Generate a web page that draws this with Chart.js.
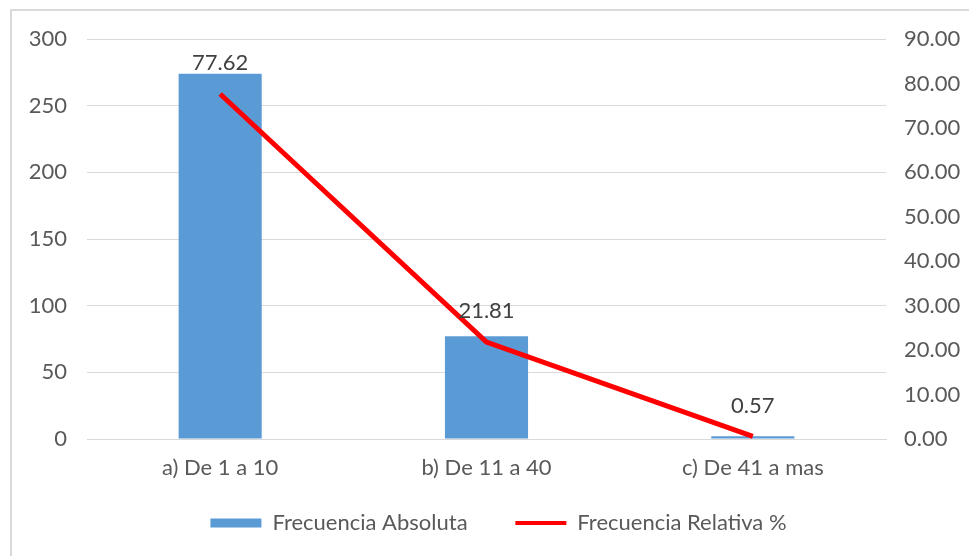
<!DOCTYPE html>
<html><head><meta charset="utf-8">
<script src="https://cdn.jsdelivr.net/npm/chart.js@4/dist/chart.umd.min.js"></script>
<style>
html,body{margin:0;padding:0;background:#fff;}
#wrap{position:relative;width:969px;height:556px;overflow:hidden;background:#fff;}
#frame{position:absolute;left:10px;top:9px;width:1000px;height:600px;border-left:2px solid #d9d9d9;border-top:2px solid #d9d9d9;}
canvas{position:absolute;left:0;top:0;}
</style></head><body>
<div id="wrap"><div id="frame"></div><canvas id="c" width="969" height="556"></canvas></div>
<script>
const categories = ['a) De 1 a 10', 'b) De 11 a 40', 'c) De 41 a mas'];
const frecuenciaAbsoluta = [274, 77, 2];
const frecuenciaRelativa = [77.62, 21.81, 0.57];
const seriesNames = ['Frecuencia Absoluta', 'Frecuencia Relativa %'];
const leftAxis = {min: 0, max: 300, step: 50};
const rightAxis = {min: 0, max: 90, step: 10};

const FONT = "Lato, 'Open Sans', sans-serif";
const FS = 22;

const lineLabels = {
  id: 'lineLabels',
  afterDatasetsDraw(chart) {
    const meta = chart.getDatasetMeta(1);
    const ctx = chart.ctx;
    ctx.save();
    ctx.font = FS + 'px ' + FONT;
    ctx.fillStyle = '#404040';
    ctx.textAlign = 'center';
    ctx.textBaseline = 'middle';
    meta.data.forEach((pt, i) => {
      ctx.fillText(frecuenciaRelativa[i].toFixed(2), pt.x, pt.y - 31);
    });
    ctx.restore();
  }
};

new Chart(document.getElementById('c'), {
  data: {
    labels: categories,
    datasets: [
      {type: 'bar', label: seriesNames[0], data: frecuenciaAbsoluta, backgroundColor: '#5B9BD5', yAxisID: 'y', order: 1,
       categoryPercentage: 1, barPercentage: 0.312},
      {type: 'line', label: seriesNames[1], data: frecuenciaRelativa, borderColor: '#FF0000', backgroundColor: '#FF0000',
       borderWidth: 5, pointRadius: 0, tension: 0, yAxisID: 'y1', order: 0}
    ]
  },
  options: {
    responsive: false,
    animation: false,
    layout: {padding: {top: 39, left: 28, right: 0, bottom: 12}},
    plugins: {
      tooltip: {enabled: false},
      legend: {
        position: 'bottom',
        labels: {
          usePointStyle: true,
          pointStyleWidth: 51,
          boxHeight: 9,
          padding: 14,
          color: '#595959',
          font: {family: FONT, size: FS},
          generateLabels(chart) {
            const items = Chart.defaults.plugins.legend.labels.generateLabels(chart);
            items.forEach(it => {
              if (it.datasetIndex === 0) {
                it.pointStyle = 'rect'; it.lineWidth = 0; it.strokeStyle = 'rgba(0,0,0,0)'; it.fillStyle = '#5B9BD5';
                it.text = it.text + '\u00a0\u00a0\u00a0\u00a0\u00a0\u00a0';
              } else {
                it.pointStyle = 'line'; it.lineWidth = 4; it.strokeStyle = '#FF0000';
              }
            });
            return items.sort((a, b) => a.datasetIndex - b.datasetIndex);
          }
        }
      }
    },
    scales: {
      x: {
        grid: {display: false, drawTicks: false},
        border: {display: true, color: '#d9d9d9', width: 1},
        ticks: {color: '#595959', font: {family: FONT, size: FS}, padding: 16, maxRotation: 0},
        afterFit(s) { s.height = 59; }
      },
      y: {
        position: 'left',
        min: leftAxis.min, max: leftAxis.max,
        ticks: {stepSize: leftAxis.step, color: '#595959', font: {family: FONT, size: FS}, padding: 20},
        grid: {color: '#d9d9d9', lineWidth: 1, drawTicks: false},
        border: {display: false},
        afterFit(s) { s.width = 59; }
      },
      y1: {
        position: 'right',
        min: rightAxis.min, max: rightAxis.max,
        ticks: {stepSize: rightAxis.step, color: '#595959', font: {family: FONT, size: FS}, padding: 18,
                callback: v => Number(v).toFixed(2)},
        grid: {display: false, drawTicks: false},
        border: {display: false},
        afterFit(s) { s.width = 83; }
      }
    }
  },
  plugins: [lineLabels]
});
</script>
</body></html>
